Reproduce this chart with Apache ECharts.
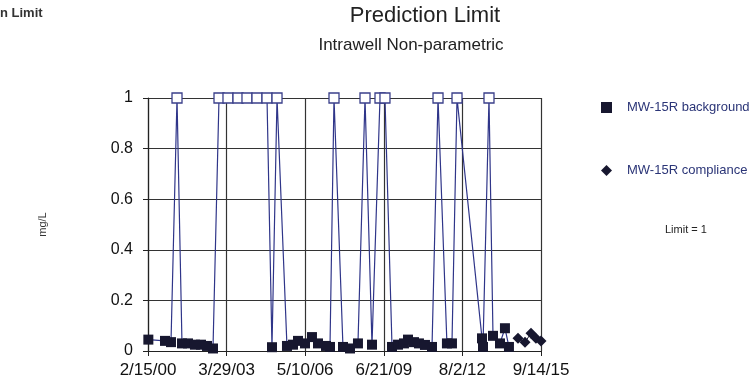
<!DOCTYPE html>
<html><head><meta charset="utf-8">
<script src="https://cdn.jsdelivr.net/npm/echarts@6/dist/echarts.min.js"></script>
<style>html,body{margin:0;padding:0;background:#fff}#c{width:755px;height:385px}</style>
</head><body><div id="c"></div>
<script>
// ---- data ----
const startDate = '2000-02-15';
const endDate = '2015-09-14';
const tickStepDays = 1138;
const yTicks = [0, 0.2, 0.4, 0.6, 0.8, 1];
const limitValue = 1;

const backgroundDates = [
 '2000-02-20','2000-10-18','2001-01-13','2001-04-10','2001-06-21','2001-09-16','2001-12-26','2002-03-23',
 '2002-06-18','2002-09-13','2002-12-09','2003-04-18','2003-09-10','2004-01-18','2004-06-11','2004-11-03',
 '2005-01-14','2005-03-28','2005-08-19','2005-11-14','2006-01-26','2006-05-07','2006-08-16','2006-11-11',
 '2007-03-07','2007-05-04','2007-07-01','2007-11-08','2008-02-18','2008-06-12','2008-09-22','2009-01-01',
 '2009-04-27','2009-07-08','2009-10-18','2010-01-13','2010-04-09','2010-06-06','2010-09-01','2010-11-12',
 '2011-02-07','2011-05-20','2011-08-15','2011-12-22','2012-03-04','2012-05-16','2013-05-13','2013-05-27',
 '2013-08-22','2013-10-19','2014-01-28','2014-04-10','2014-06-07'
];
const backgroundValues = [
 0.045,0.04,0.035,1,0.03,0.03,0.025,0.025,
 0.02,0.01,1,1,1,1,1,1,
 0.015,1,0.02,0.025,0.04,0.03,0.055,0.03,
 0.02,0.016,1,0.016,0.01,0.03,1,0.025,
 1,1,0.016,0.025,0.03,0.045,0.035,0.03,
 0.024,0.016,1,0.03,0.03,1,0.05,0.016,
 1,0.06,0.03,0.09,0.016
];
const complianceDates = ['2014-10-16','2015-01-25','2015-04-22','2015-07-03','2015-09-14'];
const complianceValues = [0.05,0.035,0.07,0.05,0.04];

// ---- helpers ----
function toUTC(s){const p=s.split('-').map(Number);return Date.UTC(p[0],p[1]-1,p[2]);}
const DAY=86400000;
const t0=toUTC(startDate);
function dayOf(s){return Math.round((toUTC(s)-t0)/DAY);}
const maxDay=dayOf(endDate);
function fmt(d){const dt=new Date(t0+d*DAY);const yy=String(dt.getUTCFullYear()%100).padStart(2,'0');return (dt.getUTCMonth()+1)+'/'+dt.getUTCDate()+'/'+yy;}

const navy='#2f3589', dark='#17172f';
const bgData=backgroundDates.map((d,i)=>{
  const v=backgroundValues[i];
  const hollow = v>=limitValue;
  return {value:[dayOf(d),v], itemStyle: hollow?{color:'#fff',borderColor:'#3a3f8a',borderWidth:1.3}:{color:dark,borderWidth:0}};
});
const cpData=complianceDates.map((d,i)=>[dayOf(d),complianceValues[i]]);

const chart=echarts.init(document.getElementById('c'),null,{renderer:'canvas'});
const FF='"Liberation Sans", Arial, sans-serif';
chart.setOption({
  animation:false,
  textStyle:{fontFamily:FF},
  grid:{left:148,right:214,top:98,bottom:34,containLabel:false},
  title:[
    {text:'Prediction Limit',left:425,top:5,padding:0,textAlign:'center',textStyle:{fontSize:22,fontWeight:'normal',color:'#222',fontFamily:FF}},
    {text:'Intrawell Non-parametric',left:411,top:37,padding:0,textAlign:'center',textStyle:{fontSize:17,fontWeight:'normal',color:'#222',fontFamily:FF}},
    {text:'n Limit',left:0,top:7,padding:0,textStyle:{fontSize:13,fontWeight:'bold',color:'#333',fontFamily:FF}}
  ],
  legend:{
    orient:'vertical',left:601,top:101,padding:0,itemGap:50,itemWidth:11,itemHeight:11,
    textStyle:{color:'#2b3577',fontSize:13,fontFamily:FF,padding:[0,0,0,10]},
    data:[{name:'MW-15R background',icon:'rect'},{name:'MW-15R compliance',icon:'diamond'}]
  },
  graphic:[
    {type:'text',left:665,top:224,style:{text:'Limit = '+limitValue,fontSize:11,fill:'#222',fontFamily:FF}}
  ],
  xAxis:{
    type:'value',min:0,max:maxDay,interval:tickStepDays,
    axisLine:{show:true,lineStyle:{color:'#222',width:1.2}},
    axisTick:{show:true,length:5,lineStyle:{color:'#222'}},
    axisLabel:{formatter:v=>fmt(v),fontSize:17,color:'#111',margin:11,fontFamily:FF},
    splitLine:{show:true,lineStyle:{color:'#333',width:1.2}}
  },
  yAxis:{
    type:'value',min:yTicks[0],max:yTicks[yTicks.length-1],interval:yTicks[1]-yTicks[0],
    name:'mg/L',nameLocation:'middle',nameGap:100,nameRotate:90,
    nameTextStyle:{fontSize:11,color:'#333',fontFamily:FF},
    axisLine:{show:true,lineStyle:{color:'#222',width:1.2}},
    axisTick:{show:true,length:5,lineStyle:{color:'#222'}},
    axisLabel:{fontSize:16,color:'#111',margin:15,fontFamily:FF},
    splitLine:{show:true,lineStyle:{color:'#333',width:1.2}}
  },
  series:[
    {name:'MW-15R background',type:'line',data:bgData,symbol:'rect',symbolSize:10,
     lineStyle:{color:navy,width:1.2},itemStyle:{color:dark},z:3},
    {name:'MW-15R compliance',type:'line',data:cpData,symbol:'diamond',symbolSize:11,
     lineStyle:{color:dark,width:1},itemStyle:{color:dark},z:4}
  ]
});
</script></body></html>
